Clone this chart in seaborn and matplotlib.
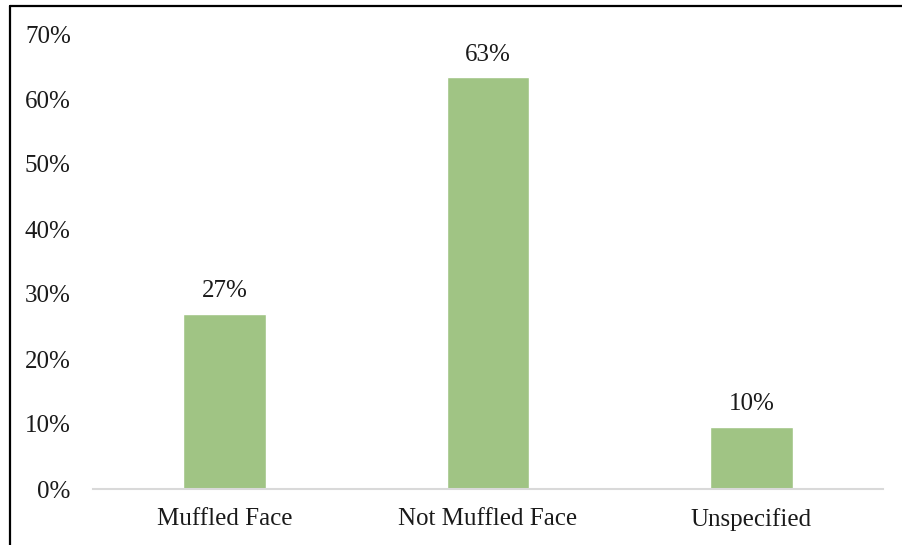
import matplotlib
matplotlib.use("Agg")
import matplotlib.pyplot as plt
import seaborn as sns
import pandas as pd
from matplotlib.lines import Line2D
from matplotlib.ticker import PercentFormatter

categories = ["Muffled Face", "Not Muffled Face", "Unspecified"]
values = [0.27, 0.634, 0.096]
labels = ["27%", "63%", "10%"]

sns.set_theme(style="white")
plt.rcParams['font.family'] = ['Liberation Serif', 'DejaVu Serif']

df = pd.DataFrame({"category": categories, "value": values})

fig = plt.figure(figsize=(9.02, 5.45), dpi=100)
ax = fig.add_axes([93/902, 1-489/545, 790/902, (489-34)/545])

sns.barplot(data=df, x="category", y="value", color="#A0C484", width=0.315,
            saturation=1, ax=ax)

ax.set_ylim(0, 0.7)
ax.set_yticks([0, 0.1, 0.2, 0.3, 0.4, 0.5, 0.6, 0.7])
ax.yaxis.set_major_formatter(PercentFormatter(1.0, decimals=0))
ax.set_xlabel("")
ax.set_ylabel("")
for s in ["top", "right", "left"]:
    ax.spines[s].set_visible(False)
ax.spines["bottom"].set_color("#d9d9d9")
ax.spines["bottom"].set_linewidth(1.5)
ax.tick_params(axis="y", length=0, pad=16, labelsize=18, colors="#1a1a1a")
ax.tick_params(axis="x", length=0, pad=14, labelsize=18, colors="#1a1a1a")

for i, (v, lab) in enumerate(zip(values, labels)):
    ax.annotate(lab, (i, v), xytext=(0, 8), textcoords="offset points",
                ha="center", va="bottom", fontsize=18, color="#1a1a1a")

fig.add_artist(Line2D([10/902, 10/902], [0, 1-6/545], transform=fig.transFigure,
                      color="black", linewidth=1.6))
fig.add_artist(Line2D([10/902, 1], [1-6/545, 1-6/545], transform=fig.transFigure,
                      color="black", linewidth=1.6))

fig.savefig("out.png", dpi=100)
